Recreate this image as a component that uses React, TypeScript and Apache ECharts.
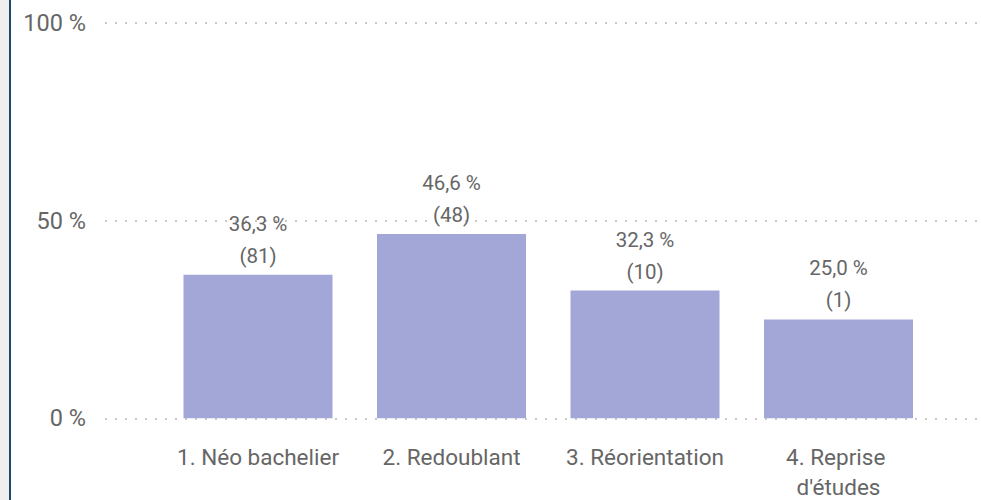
import React, { useEffect, useRef } from "react";
import * as echarts from "echarts";

const categories = ["1. Néo bachelier", "2. Redoublant", "3. Réorientation", "4. Reprise d'études"];
const percentages = [36.3, 46.6, 32.3, 25.0];
const counts = [81, 48, 10, 1];
const yTicks = [0, 50, 100];

const FONT = "Roboto, 'Open Sans', sans-serif";
const TEXT = "#666666";

export default function App() {
  const ref = useRef<HTMLDivElement>(null);
  useEffect(() => {
    document.body.style.margin = "0";
    const chart = echarts.init(ref.current!, null, { renderer: "svg" });
    chart.setOption({
      animation: false,
      backgroundColor: "#ffffff",
      graphic: [
        { type: "rect", left: 0, top: 0, shape: { width: 9, height: 500 }, style: { fill: "#EFEFEF" } },
        { type: "rect", left: 9, top: 0, shape: { width: 2, height: 500 }, style: { fill: "#1B4B69" } },
      ],
      grid: [
        { left: 105, right: 1, top: 22.7, bottom: 81.7, outerBoundsMode: "none", containLabel: false },
        { left: 161.25, right: 45.75, top: 22.7, bottom: 81.7, outerBoundsMode: "none", containLabel: false },
      ],
      xAxis: [
        { type: "category", gridIndex: 0, data: categories, show: false },
        {
          type: "category",
          gridIndex: 1,
          data: categories,
          axisLine: { show: false },
          axisTick: { show: false },
          axisLabel: {
            color: TEXT,
            fontFamily: FONT,
            fontSize: 22.5,
            lineHeight: 30,
            margin: 24,
            width: 180,
            overflow: "break",
            interval: 0,
          },
        },
      ],
      yAxis: [
        {
          type: "value",
          gridIndex: 0,
          min: yTicks[0],
          max: yTicks[yTicks.length - 1],
          interval: yTicks[1] - yTicks[0],
          axisLine: { show: false },
          axisTick: { show: false },
          axisLabel: {
            color: TEXT,
            fontFamily: FONT,
            fontSize: 23.5,
            margin: 19,
            formatter: "{value} %",
          },
          splitLine: { show: true, lineStyle: { color: "#C8C8C8", width: 2, type: [2, 8] } },
        },
        {
          type: "value",
          gridIndex: 1,
          min: yTicks[0],
          max: yTicks[yTicks.length - 1],
          show: false,
          splitLine: { show: false },
        },
      ],
      series: [
        {
          type: "bar",
          xAxisIndex: 1,
          yAxisIndex: 1,
          data: percentages,
          barWidth: 149,
          itemStyle: { color: "#A2A7D8" },
          label: {
            show: true,
            position: "top",
            distance: 3,
            color: TEXT,
            fontFamily: FONT,
            fontSize: 20.5,
            lineHeight: 32,
            formatter: (p: any) =>
              `${percentages[p.dataIndex].toFixed(1).replace(".", ",")} %\n(${counts[p.dataIndex]})`,
          },
        },
      ],
    });
    return () => chart.dispose();
  }, []);
  return <div ref={ref} style={{ position: "absolute", left: 0, top: 0, width: 981, height: 500 }} />;
}
